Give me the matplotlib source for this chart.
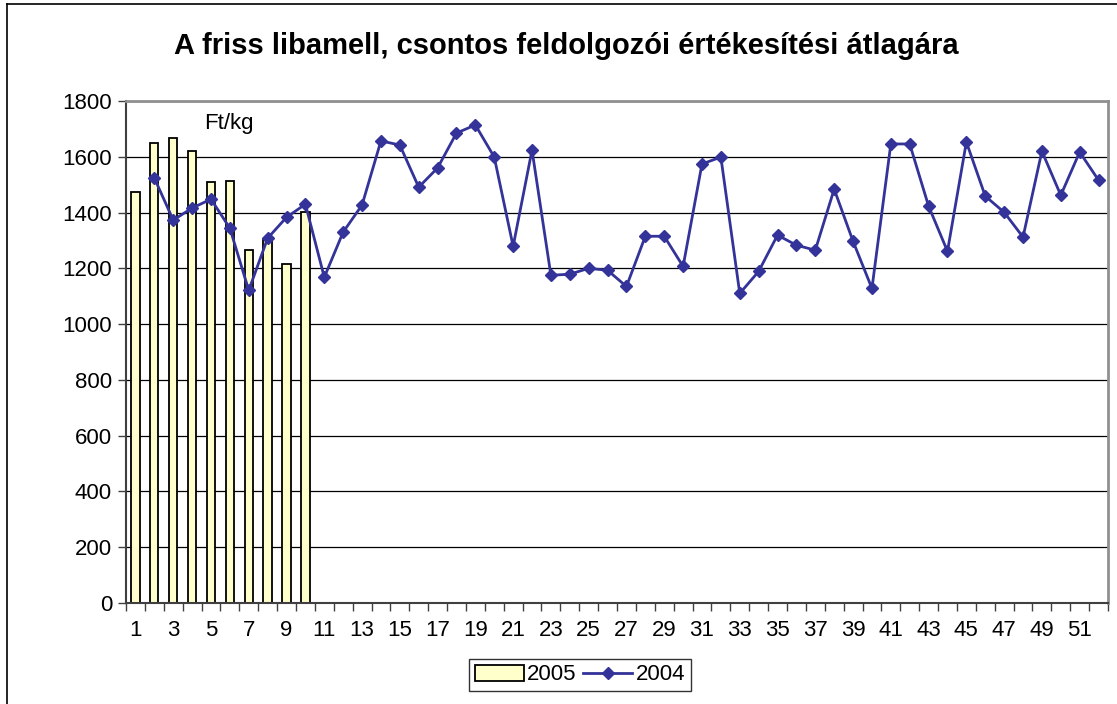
import matplotlib
matplotlib.use("Agg")
import matplotlib.pyplot as plt
from matplotlib.lines import Line2D

# adatok: heti átlagár, Ft/kg
weeks = list(range(1, 53))
price_2005 = [1473, 1649, 1667, 1620, 1509, 1513, 1265, 1300, 1214, 1401]
weeks_2004 = list(range(2, 53))
price_2004 = [1524, 1373, 1416, 1448, 1344, 1121, 1308, 1383, 1430,
              1168, 1330, 1427, 1657, 1642, 1491, 1560, 1685, 1714, 1599,
              1279, 1624, 1175, 1179, 1200, 1193, 1135, 1315, 1315, 1207,
              1574, 1599, 1110, 1189, 1319, 1283, 1265, 1484, 1297, 1128,
              1646, 1646, 1423, 1261, 1653, 1459, 1401, 1312, 1620, 1462,
              1617, 1516]
y_ticks = list(range(0, 1801, 200))

plt.rcParams['font.family'] = ['Liberation Sans', 'DejaVu Sans']

fig = plt.figure(figsize=(11.17, 7.04), dpi=100)
ax = fig.add_axes([126/1117, 101/704, 982/1117, 502/704])

bars = ax.bar(weeks[:len(price_2005)], price_2005, width=0.44, color='#FFFFCC',
              edgecolor='black', linewidth=1.3, label='2005', zorder=2)
line, = ax.plot(weeks_2004, price_2004, color='#333399', linewidth=2, marker='D',
                markersize=6.5, label='2004', zorder=3)

ax.set_xlim(0.5, 52.5)
ax.set_ylim(0, 1800)
ax.set_yticks(y_ticks)
ax.yaxis.grid(True, color='black', linewidth=0.9, zorder=0)
ax.set_axisbelow(True)

# címkék a kategóriák közepén, osztások a határokon
ax.set_xticks(weeks[::2])
ax.set_xticklabels([str(w) for w in weeks[::2]])
ax.set_xticks([w + 0.5 for w in range(0, 53)], minor=True)
ax.tick_params(axis='x', which='major', length=0, pad=12, labelsize=16)
ax.tick_params(axis='x', which='minor', length=6, color='#404040', width=1)
ax.tick_params(axis='y', length=6, color='#404040', width=1, labelsize=16, pad=4)

for s in ['left', 'bottom']:
    ax.spines[s].set_color('#404040')
    ax.spines[s].set_linewidth(1.5)
for s in ['top', 'right']:
    ax.spines[s].set_color('#909090')
    ax.spines[s].set_linewidth(2)

ax.text(0.080, 0.956, 'Ft/kg', transform=ax.transAxes, fontsize=16,
        va='center', ha='left')

fig.text(566/1117, 1 - 46/704,
         'A friss libamell, csontos feldolgozói értékesítési átlagára',
         ha='center', va='center', fontsize=21, fontweight='bold')

leg = fig.legend([bars, line], ['2005', '2004'], loc='center',
                 bbox_to_anchor=(580/1117, 1 - 675/704), ncol=2,
                 fontsize=16, frameon=True, fancybox=False, edgecolor='black',
                 handlelength=2.2, columnspacing=0.3, handletextpad=0.15,
                 borderpad=0.25, borderaxespad=0.2)
leg.get_frame().set_linewidth(1)

# külső keret
fig.add_artist(Line2D([7/1117, 7/1117], [0, 1 - 4/704], color='black',
                      linewidth=1.2, transform=fig.transFigure))
fig.add_artist(Line2D([7/1117, 1], [1 - 4/704, 1 - 4/704], color='black',
                      linewidth=1.2, transform=fig.transFigure))

fig.savefig('out.png', dpi=100)
